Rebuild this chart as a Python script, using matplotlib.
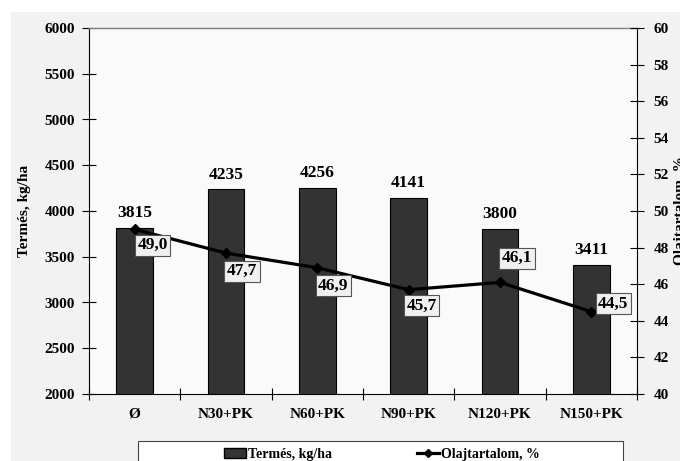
import matplotlib
matplotlib.use("Agg")
import matplotlib.pyplot as plt
from matplotlib.patches import Rectangle, Patch
from matplotlib.lines import Line2D
import numpy as np

categories = ["Ø", "N30+PK", "N60+PK", "N90+PK", "N120+PK", "N150+PK"]
yield_vals = [3815, 4235, 4256, 4141, 3800, 3411]
oil_vals = [49.0, 47.7, 46.9, 45.7, 46.1, 44.5]
left_ticks = [2000, 2500, 3000, 3500, 4000, 4500, 5000, 5500, 6000]
right_ticks = [40, 42, 44, 46, 48, 50, 52, 54, 56, 58, 60]

plt.rcParams['font.family'] = ['Liberation Serif', 'DejaVu Serif']
plt.rcParams['font.weight'] = 'bold'

W, H = 680, 461
PX = 0.72  # points per pixel at 100 dpi
fig = plt.figure(figsize=(6.8, 4.61), dpi=100)
fig.patch.set_facecolor('white')
fig.add_artist(Rectangle((11 / W, 0), 1, 1 - 12 / H, transform=fig.transFigure,
                         facecolor='#f2f2f2', edgecolor='none', zorder=-10))

ax = fig.add_axes([89 / W, 1 - 394 / H, (637 - 89) / W, (394 - 28) / H])
ax.set_facecolor('#fafafa')
x = np.arange(len(categories))
ax.bar(x, yield_vals, width=0.40, color='#333333', edgecolor='black', linewidth=0.8, zorder=2)
ax.set_xlim(-0.5, len(categories) - 0.5)
ax.set_ylim(2000, 6000)
ax.set_yticks(left_ticks)
ax.set_yticklabels([str(t) for t in left_ticks], fontsize=11, fontweight='bold')
ax.set_xticks(x)
ax.set_xticklabels(categories, fontsize=11, fontweight='bold')
ax.set_xticks(np.arange(-0.5, len(categories)), minor=True)
ax.tick_params(axis='x', which='major', length=0, pad=10)
ax.tick_params(axis='x', which='minor', length=9, direction='inout', width=0.8)
ax.tick_params(axis='y', length=10, direction='inout', width=0.8, pad=5)
ax.set_ylabel("Termés, kg/ha", fontsize=11, fontweight='bold', labelpad=10)
for s in ['left', 'bottom']:
    ax.spines[s].set_color('black')
    ax.spines[s].set_linewidth(0.8)
ax.spines['top'].set_color('#808080')
ax.spines['top'].set_linewidth(1.0)
ax.spines['right'].set_visible(False)

for xi, v in zip(x, yield_vals):
    ax.annotate(str(v), (xi, v), xytext=(0, 5), textcoords='offset points',
                ha='center', va='bottom', fontsize=12.5, fontweight='bold', zorder=5)

ax2 = ax.twinx()
ax2.set_ylim(40, 60)
ax2.set_yticks(right_ticks)
ax2.set_yticklabels([str(t) for t in right_ticks], fontsize=11, fontweight='bold')
ax2.tick_params(axis='y', length=10, direction='inout', width=0.8, pad=7)
ax2.spines['right'].set_color('black')
ax2.spines['right'].set_linewidth(0.8)
for s in ['left', 'top', 'bottom']:
    ax2.spines[s].set_visible(False)
ax2.plot(x, oil_vals, color='black', linewidth=2.3, marker='D', markersize=5, zorder=3)
ax2.set_ylabel("Olajtartalom, %", fontsize=11, fontweight='bold', labelpad=4)

# label box centre offsets from marker, in pixels (right, up)
offsets_px = [(18, -16), (16, -18), (16, -18), (13, -16), (17, 24), (22, 8)]
for xi, v, (dx, dy) in zip(x, oil_vals, offsets_px):
    ax2.annotate(f"{v:.1f}".replace('.', ','), (xi, v), xytext=(dx * PX, dy * PX),
                 textcoords='offset points', ha='center', va='center',
                 fontsize=12.5, fontweight='bold', zorder=6,
                 bbox=dict(boxstyle='square,pad=0.14', facecolor='#f0f0f0',
                           edgecolor='#555555', linewidth=0.8))

# legend frame
fig.add_artist(Rectangle((138 / W, -0.05), (623 - 138) / W, 0.05 + 1 - 441 / H,
                         transform=fig.transFigure, facecolor='white',
                         edgecolor='#444444', linewidth=0.8, zorder=1))
h1 = [Patch(facecolor='#333333', edgecolor='black', label='Termés, kg/ha')]
h2 = [Line2D([0], [0], color='black', linewidth=2.3, marker='D', markersize=4,
             label='Olajtartalom, %')]
for hs, xl in [(h1, 224), (h2, 417)]:
    lg = fig.legend(handles=hs, loc='center left', bbox_to_anchor=(xl / W, 1 - 454 / H),
                    frameon=False, prop={'weight': 'bold', 'size': 10},
                    borderpad=0, borderaxespad=0, handlelength=1.6, handletextpad=0.1)
    lg.set_zorder(2)

fig.savefig("out.png", dpi=100)
